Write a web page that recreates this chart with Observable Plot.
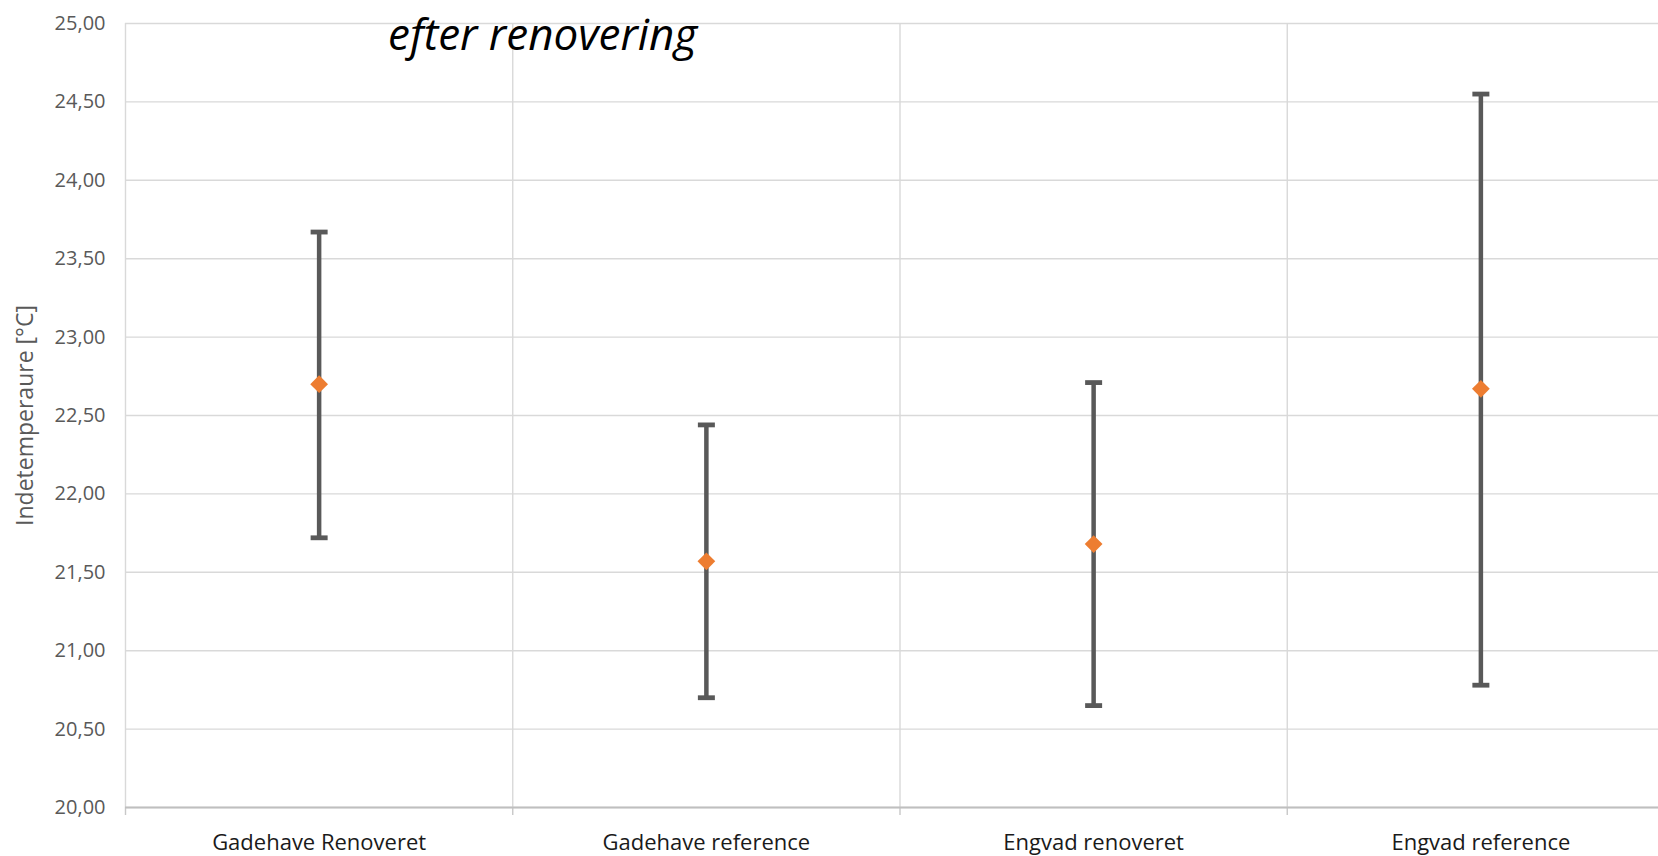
<!DOCTYPE html>
<html><head><meta charset="utf-8">
<script src="https://cdn.jsdelivr.net/npm/d3@7"></script>
<script src="https://cdn.jsdelivr.net/npm/@observablehq/plot@0.6"></script>
<style>
html,body{margin:0;padding:0;background:#fff;overflow:hidden;}
#wrap{position:relative;width:1658px;height:856px;}
#title{position:absolute;left:388px;top:11px;font-family:"Open Sans";font-style:italic;font-size:44px;line-height:44px;color:#000;white-space:nowrap;}
</style></head><body>
<div id="wrap"><div id="chart"></div><div id="title"></div></div>
<script>
const categories = ["Gadehave Renoveret", "Gadehave reference", "Engvad renoveret", "Engvad reference"];
const means = [22.70, 21.57, 21.68, 22.67];
const lows  = [21.72, 20.70, 20.65, 20.78];
const highs = [23.67, 22.44, 22.71, 24.55];
const yTicks = [20, 20.5, 21, 21.5, 22, 22.5, 23, 23.5, 24, 24.5, 25];
const titleText = "efter renovering";
const yLabel = "Indetemperaure [°C]";

document.getElementById("title").textContent = titleText;

const data = categories.map((c, i) => ({cat: c, pos: i + 0.5, mean: means[i], lo: lows[i], hi: highs[i]}));
const boundaries = categories.map((c, i) => i).concat([categories.length]);
const centers = categories.map((c, i) => i + 0.5);

const capSymbol = {draw(ctx) { ctx.rect(-8.5, -2.4, 17, 4.8); }};

const chart = Plot.plot({
  width: 1658, height: 856,
  marginLeft: 125, marginTop: 23, marginBottom: 49, marginRight: 0,
  style: {fontFamily: "Open Sans", fontSize: "20px", color: "#595959", background: "white"},
  x: {type: "linear", domain: [0, categories.length], range: [125, 1674], label: null},
  y: {domain: [20, 25], label: null},
  marks: [
    Plot.gridY(yTicks, {stroke: "#d9d9d9", strokeOpacity: 1, strokeWidth: 1.4}),
    Plot.ruleX(boundaries, {y1: 20, y2: 25, stroke: "#d9d9d9", strokeWidth: 1.4}),
    Plot.axisX({ticks: boundaries, tickSize: 8, tickFormat: () => "", stroke: "#c8c8c8", strokeWidth: 1.4, label: null}),
    Plot.ruleY([20], {stroke: "#bfbfbf", strokeWidth: 2}),
    Plot.axisY({ticks: yTicks, tickSize: 0, tickPadding: 20, tickFormat: d => d.toFixed(2).replace(".", ","), fontSize: 20, fill: "#595959", label: null}),
    Plot.axisX({ticks: centers, tickSize: 0, tickPadding: 27, tickFormat: d => categories[Math.floor(d)], fontSize: 22, fill: "#1a1a1a", label: null}),
    Plot.text([yLabel], {frameAnchor: "left", textAnchor: "middle", rotate: -90, dx: -100, fontSize: 23, fill: "#595959"}),
    Plot.ruleX(data, {x: "pos", y1: "lo", y2: "hi", stroke: "#595959", strokeWidth: 4.5}),
    Plot.dot(data, {x: "pos", y: "lo", symbol: capSymbol, fill: "#595959", stroke: "none"}),
    Plot.dot(data, {x: "pos", y: "hi", symbol: capSymbol, fill: "#595959", stroke: "none"}),
    Plot.dot(data, {x: "pos", y: "mean", symbol: "diamond2", r: 8, fill: "#ED7D31", stroke: "none"})
  ]
});
document.getElementById("chart").appendChild(chart);
</script>
</body></html>
